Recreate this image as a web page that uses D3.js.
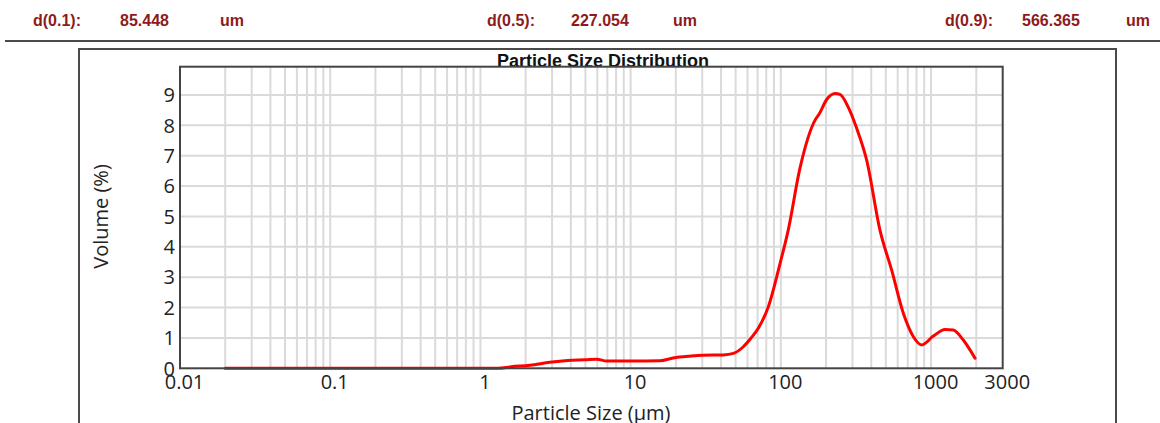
<!DOCTYPE html>
<html>
<head>
<meta charset="utf-8">
<script src="https://cdn.jsdelivr.net/npm/d3@7"></script>
<style>
  html, body { margin: 0; padding: 0; background: #fff; }
  svg { display: block; }
</style>
</head>
<body>
<svg id="chart" width="1160" height="423"></svg>
<script>
// Percentile summary shown in the header row
const summaryLabels = ["d(0.1):", "d(0.5):", "d(0.9):"];
const summaryValues = ["85.448", "227.054", "566.365"];
const summaryUnit = "um";

// Volume distribution: particle size (µm) and volume (%)
const sizes = [0.02, 0.1, 0.5, 1.0, 1.31, 1.6, 2.14, 2.9, 3.83, 5.0, 5.95, 6.93, 10, 15.7, 19.2, 24.8, 30.3, 41.4, 48.3, 56.3, 63, 70.8, 82.6, 98.8, 112, 134, 169, 180, 202, 230, 248, 281, 320, 373, 457, 547, 654, 763, 867, 1035, 1239, 1406, 1640, 1963];
const volumes = [0, 0, 0, 0, 0.0, 0.05, 0.1, 0.2, 0.26, 0.28, 0.3, 0.24, 0.24, 0.25, 0.34, 0.4, 0.43, 0.44, 0.49, 0.71, 0.98, 1.32, 2.03, 3.45, 4.55, 6.58, 8.17, 8.37, 8.85, 9.05, 9.02, 8.6, 7.9, 6.85, 4.55, 3.23, 1.81, 1.04, 0.77, 1.06, 1.28, 1.26, 0.93, 0.33];

// Axis ticks
const xTickValues = [0.01, 0.1, 1, 10, 100, 1000, 3000];
const xTickLabels = ["0.01", "0.1", "1", "10", "100", "1000", "3000"];
const yTickValues = [0, 1, 2, 3, 4, 5, 6, 7, 8, 9];

const svg = d3.select("#chart");
const W = 1160;

// header row
const headerColor = "#8e1b1b";
const headerFont = "bold 16px 'Liberation Sans', Arial, sans-serif";
const labelX = [33, 487, 945];
const valueX = [120, 571, 1022];
const unitX = [220, 673, 1126];
summaryLabels.forEach((lab, i) => {
  const g = svg.append("g").style("font", headerFont).attr("fill", headerColor);
  g.append("text").attr("x", labelX[i]).attr("y", 26).text(lab);
  g.append("text").attr("x", valueX[i]).attr("y", 26).text(summaryValues[i]);
  g.append("text").attr("x", unitX[i]).attr("y", 26).text(summaryUnit);
});

svg.append("line").attr("x1", 5).attr("x2", W).attr("y1", 41).attr("y2", 41)
  .attr("stroke", "#4a4a4a").attr("stroke-width", 2);

// outer panel frame
svg.append("path").attr("d", "M79,430 V49 H1116 V430")
  .attr("fill", "none").attr("stroke", "#4a4a4a").attr("stroke-width", 2);

// plot area
const plotLeft = 180, plotRight = 1002.7, plotTop = 66.7, plotBottom = 368.3;
const x = d3.scaleLog().domain([0.01, 3000]).range([plotLeft, plotRight]);
const y = d3.scaleLinear().domain([0, 9.93]).range([plotBottom, plotTop]);

// grid: verticals at 1..9 of each decade
const gridX = [];
for (let e = -2; e <= 3; e++) {
  for (let m = 1; m <= 9; m++) {
    const v = m * Math.pow(10, e);
    if (v > 0.01 && v < 3000) gridX.push(v);
  }
}
const grid = svg.append("g").attr("stroke", "#dadada").attr("stroke-width", 2);
grid.selectAll("line.v").data(gridX).join("line").attr("class", "v")
  .attr("x1", d => x(d)).attr("x2", d => x(d)).attr("y1", plotTop).attr("y2", plotBottom);
grid.selectAll("line.h").data(yTickValues.filter(d => d > 0)).join("line").attr("class", "h")
  .attr("x1", plotLeft).attr("x2", plotRight).attr("y1", d => y(d)).attr("y2", d => y(d));

// title (the frame is drawn over its lower edge)
svg.append("text").attr("x", 603).attr("y", 67).attr("text-anchor", "middle")
  .style("font", "bold 18px 'Liberation Sans', Arial, sans-serif").attr("fill", "#111")
  .text("Particle Size Distribution");

// distribution curve
const line = d3.line().x((d, i) => x(sizes[i])).y(d => y(d)).curve(d3.curveMonotoneX);
svg.append("path").datum(volumes).attr("d", line)
  .attr("fill", "none").attr("stroke", "#ff0000").attr("stroke-width", 3)
  .attr("stroke-linejoin", "round").attr("stroke-linecap", "round");

// plot frame
svg.append("rect").attr("x", plotLeft).attr("y", plotTop)
  .attr("width", plotRight - plotLeft).attr("height", plotBottom - plotTop)
  .attr("fill", "none").attr("stroke", "#444").attr("stroke-width", 2);

// axes
const tickFont = "20px 'Open Sans', sans-serif";
const xAxis = d3.axisBottom(x).tickValues(xTickValues)
  .tickFormat((d, i) => xTickLabels[i]).tickSize(0).tickPadding(0);
const gx = svg.append("g").attr("transform", `translate(0,${plotBottom})`).call(xAxis);
gx.select(".domain").remove();
gx.selectAll("text").style("font", tickFont).attr("fill", "#222")
  .attr("dx", 4).attr("dy", 0).attr("y", 21);

const yAxis = d3.axisLeft(y).tickValues(yTickValues).tickFormat(d3.format("d")).tickSize(0).tickPadding(0);
const gy = svg.append("g").attr("transform", `translate(${plotLeft},0)`).call(yAxis);
gy.select(".domain").remove();
gy.selectAll("text").style("font", tickFont).attr("fill", "#222").attr("x", -5).attr("dy", "0.34em");

// axis titles
svg.append("text").attr("x", 591).attr("y", 420).attr("text-anchor", "middle")
  .style("font", tickFont).attr("fill", "#222").text("Particle Size (µm)");
svg.append("text").attr("transform", "translate(108,216.5) rotate(-90)").attr("text-anchor", "middle")
  .style("font", tickFont).attr("fill", "#222").text("Volume (%)");
</script>
</body>
</html>
